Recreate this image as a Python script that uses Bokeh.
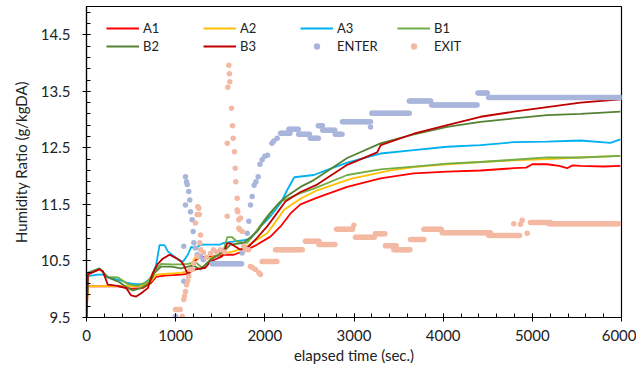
import numpy as np
from bokeh.plotting import figure
from bokeh.models import Legend, LegendItem, FixedTicker, Range1d
from bokeh.embed import file_html
from bokeh.resources import INLINE

# ---------------- data ----------------
a1_t = [0, 15, 351, 501, 632, 725, 781, 875, 1062, 1136, 1174, 1211, 1278, 1390, 1540, 1652, 1802, 1914, 2063, 2176, 2288, 2400, 2587, 2924, 3297, 3670, 4045, 4419, 4792, 4930, 5000, 5166, 5300, 5390, 5450, 5540, 5800, 5988]
a1_v = [9.5, 10.05, 10.05, 10.01, 10.02, 10.11, 10.22, 10.24, 10.26, 10.27, 10.40, 10.50, 10.57, 10.57, 10.61, 10.61, 10.70, 10.79, 10.93, 11.11, 11.34, 11.50, 11.62, 11.81, 11.96, 12.05, 12.08, 12.10, 12.14, 12.15, 12.21, 12.21, 12.18, 12.14, 12.19, 12.18, 12.17, 12.18]

a2_t = [0, 15, 351, 613, 725, 781, 875, 1062, 1136, 1174, 1211, 1278, 1390, 1540, 1652, 1764, 1877, 2026, 2138, 2213, 2400, 2587, 2961, 3409, 3670, 4045, 4419, 4792, 5166, 5540, 5988]
a2_v = [9.5, 10.05, 10.06, 10.05, 10.14, 10.26, 10.27, 10.29, 10.32, 10.43, 10.55, 10.55, 10.55, 10.64, 10.67, 10.73, 10.84, 10.99, 11.23, 11.40, 11.60, 11.75, 11.95, 12.10, 12.16, 12.21, 12.25, 12.28, 12.30, 12.33, 12.36]

a3_t = [0, 15, 127, 183, 239, 351, 464, 538, 632, 725, 781, 819, 875, 912, 1006, 1080, 1136, 1174, 1222, 1278, 1502, 1540, 1764, 1839, 1951, 2063, 2176, 2250, 2330, 2550, 2700, 2924, 3297, 3670, 4045, 4419, 4792, 5166, 5540, 5876, 5988]
a3_v = [9.5, 10.23, 10.26, 10.26, 10.21, 10.17, 10.11, 10.09, 10.09, 10.20, 10.43, 10.78, 10.78, 10.67, 10.55, 10.48, 10.61, 10.75, 10.72, 10.79, 10.79, 10.82, 10.87, 10.89, 11.11, 11.29, 11.52, 11.75, 11.98, 12.02, 12.11, 12.24, 12.40, 12.46, 12.52, 12.55, 12.60, 12.61, 12.63, 12.59, 12.65]

b1_t = [0, 15, 146, 239, 351, 464, 576, 688, 763, 837, 950, 1062, 1136, 1222, 1297, 1390, 1540, 1578, 1633, 1690, 1802, 1914, 2026, 2138, 2176, 2250, 2400, 2550, 2924, 3297, 3670, 4045, 4419, 4792, 5166, 5540, 5988]
b1_v = [9.5, 10.26, 10.36, 10.22, 10.21, 10.09, 10.06, 10.14, 10.32, 10.45, 10.44, 10.44, 10.45, 10.48, 10.38, 10.52, 10.70, 10.92, 10.92, 10.84, 10.82, 11.05, 11.29, 11.49, 11.55, 11.60, 11.70, 11.78, 12.02, 12.12, 12.17, 12.22, 12.25, 12.29, 12.33, 12.33, 12.36]

b2_t = [0, 15, 146, 239, 351, 464, 520, 613, 707, 763, 837, 950, 1062, 1136, 1200, 1278, 1390, 1540, 1614, 1764, 1914, 2063, 2157, 2250, 2400, 2550, 2924, 3297, 3670, 4045, 4419, 4792, 5166, 5540, 5988]
b2_v = [9.5, 10.29, 10.37, 10.21, 10.14, 10.02, 9.98, 10.02, 10.11, 10.29, 10.40, 10.40, 10.37, 10.40, 10.42, 10.35, 10.52, 10.67, 10.79, 10.82, 11.02, 11.35, 11.52, 11.65, 11.81, 11.93, 12.32, 12.58, 12.74, 12.87, 12.96, 13.02, 13.08, 13.10, 13.14]

b3_t = [0, 15, 146, 183, 239, 351, 445, 501, 557, 613, 688, 744, 800, 856, 931, 1006, 1062, 1099, 1136, 1174, 1222, 1334, 1390, 1521, 1578, 1614, 1727, 1821, 1914, 2026, 2138, 2231, 2400, 2587, 2924, 3260, 3300, 3670, 4045, 4419, 4792, 5166, 5540, 5988]
b3_v = [9.5, 10.26, 10.35, 10.32, 10.08, 10.06, 10.02, 9.89, 9.87, 9.93, 10.02, 10.29, 10.45, 10.54, 10.61, 10.55, 10.49, 10.40, 10.26, 10.32, 10.35, 10.38, 10.49, 10.58, 10.81, 10.81, 10.70, 10.76, 10.91, 11.11, 11.35, 11.55, 11.72, 11.85, 12.20, 12.42, 12.55, 12.75, 12.90, 13.05, 13.14, 13.22, 13.30, 13.36]

# ENTER: isolated readings + runs of constant readings (start, end, value)
enter_pt_t = [998, 1091, 1091, 1110, 1110, 1122, 1129, 1147, 1158, 1166, 1185, 1196, 1203, 1222, 1241, 1278, 1310, 1746, 1783, 1802, 1820, 1839, 1858, 1880, 1900, 1925, 1945, 1970, 2000, 2030, 2080, 2101, 2138, 3185]
enter_pt_v = [9.52, 10.14, 10.76, 11.99, 11.49, 11.90, 11.85, 11.73, 11.58, 11.37, 11.23, 11.02, 10.82, 10.73, 10.61, 10.58, 10.52, 10.64, 10.72, 10.99, 11.20, 11.49, 11.64, 11.84, 11.90, 11.99, 12.21, 12.29, 12.35, 12.37, 12.58, 12.62, 12.67, 12.87]
enter_run_start = [1409, 2176, 2270, 2380, 2510, 2600, 2650, 2790, 2870, 3200, 3620, 3870, 4390, 4510]
enter_run_end   = [1745, 2288, 2380, 2510, 2600, 2650, 2790, 2870, 3185, 3620, 3870, 4390, 4500, 6000]
enter_run_val   = [10.45, 12.76, 12.83, 12.74, 12.67, 12.89, 12.81, 12.74, 12.96, 13.11, 13.33, 13.26, 13.47, 13.39]

# EXIT
exit_pt_t = [998, 1015, 1032, 1050, 1073, 1091, 1099, 1110, 1122, 1135, 1147, 1166, 1185, 1203, 1222, 1241, 1248, 1260, 1265, 1278, 1271, 1241, 1278, 1312, 1346, 1391, 1424, 1458, 1503, 1548, 1578, 1578, 1584, 1596, 1602, 1607, 1626, 1637, 1645, 1660, 1668, 1674, 1690, 1697, 1690, 1708, 1727, 1708, 1720, 1746, 1765, 1783, 1817, 1839, 1862, 1895, 1933, 1951, 2998, 4792, 4867, 4886, 4942]
exit_pt_v = [9.64, 9.64, 9.64, 9.64, 9.52, 9.82, 9.88, 9.96, 10.08, 10.15, 10.23, 10.35, 10.35, 10.46, 11.17, 11.32, 11.46, 11.43, 11.32, 10.96, 10.82, 10.58, 10.70, 10.65, 10.56, 10.63, 10.70, 10.66, 10.70, 10.66, 11.29, 12.58, 13.57, 13.96, 13.81, 13.67, 13.20, 12.89, 12.67, 12.43, 12.14, 11.90, 11.61, 11.37, 11.40, 11.23, 11.26, 11.08, 11.05, 11.02, 10.76, 10.70, 10.70, 10.40, 10.38, 10.35, 10.29, 10.26, 11.13, 11.16, 11.15, 11.22, 10.99]
exit_run_start = [1970, 2120, 2456, 2606, 2804, 3017, 3241, 3353, 3447, 3634, 3784, 3989, 4512, 4979, 5185]
exit_run_end   = [2140, 2420, 2606, 2793, 2990, 3241, 3353, 3484, 3634, 3784, 3989, 4531, 4867, 5204, 5970]
exit_run_val   = [10.49, 10.70, 10.85, 10.79, 11.06, 10.92, 10.98, 10.77, 10.70, 10.88, 11.06, 11.00, 10.95, 11.18, 11.16]

series_names = ["A1", "A2", "A3", "B1", "B2", "B3"]
series_colors = ["#FF0000", "#FFC000", "#00B0F0", "#70AD47", "#548235", "#C00000"]
x_ticks = [0, 1000, 2000, 3000, 4000, 5000, 6000]
y_ticks = [9.5, 10.5, 11.5, 12.5, 13.5, 14.5]


def expand(pt_t, pt_v, starts, ends, vals, step=15):
    t = list(pt_t)
    v = list(pt_v)
    for s, e, val in zip(starts, ends, vals):
        ts = np.arange(s, e + 0.1, step)
        t.extend(ts.tolist())
        v.extend([val] * len(ts))
    return t, v


enter_t, enter_v = expand(enter_pt_t, enter_pt_v, enter_run_start, enter_run_end, enter_run_val)
exit_t, exit_v = expand(exit_pt_t, exit_pt_v, exit_run_start, exit_run_end, exit_run_val)

FONT = "Lato"
TXT = "#222222"

p = figure(width=636, height=366, output_backend="svg", toolbar_location=None,
           x_range=Range1d(0, 6000), y_range=Range1d(9.5, 15.0),
           min_border_left=86, min_border_right=15, min_border_top=6, min_border_bottom=48)
p.background_fill_color = "white"
p.border_fill_color = "white"
p.outline_line_color = "black"
p.outline_line_width = 1.2
p.xgrid.visible = False
p.ygrid.visible = False

series = [(a1_t, a1_v), (a2_t, a2_v), (a3_t, a3_v), (b1_t, b1_v), (b2_t, b2_v), (b3_t, b3_v)]
items = []
for (t, v), name, col in zip(series, series_names, series_colors):
    r = p.line(t, v, line_color=col, line_width=1.8)
    items.append(LegendItem(label=name, renderers=[r]))

re = p.scatter(enter_t, enter_v, size=5.5, fill_color="#A9B6DC", line_color=None)
rx = p.scatter(exit_t, exit_v, size=5.5, fill_color="#F4B9A3", line_color=None)
items.append(LegendItem(label="ENTER", renderers=[re]))
items.append(LegendItem(label="EXIT", renderers=[rx]))

legend = Legend(items=items, orientation="horizontal", ncols=4, location=(15, 258),
                border_line_alpha=0, background_fill_alpha=0,
                label_text_font=FONT, label_text_font_size="13px", label_text_color=TXT,
                glyph_width=33, glyph_height=16, label_height=16, label_width=58,
                label_standoff=4, spacing=2, padding=5, margin=0)
p.add_layout(legend, "center")

for ax in (p.xaxis[0], p.yaxis[0]):
    ax.axis_line_color = "black"
    ax.axis_line_width = 1.2
    ax.major_tick_line_color = "black"
    ax.minor_tick_line_color = "black"
    ax.major_tick_in = 4
    ax.major_tick_out = 4
    ax.minor_tick_in = 4
    ax.minor_tick_out = 0
    ax.major_label_text_font = FONT
    ax.major_label_text_font_size = "15px"
    ax.major_label_text_color = TXT
    ax.axis_label_text_font = FONT
    ax.axis_label_text_font_size = "15px"
    ax.axis_label_text_font_style = "normal"
    ax.axis_label_text_color = TXT

p.xaxis.ticker = FixedTicker(ticks=x_ticks, minor_ticks=list(range(0, 6001, 200)))
p.yaxis.ticker = FixedTicker(ticks=y_ticks, minor_ticks=[round(9.5 + 0.2 * i, 1) for i in range(28)])
p.xaxis.axis_label = "elapsed time (sec.)"
p.yaxis.axis_label = "Humidity Ratio (g/kgDA)"
p.xaxis.major_label_standoff = 8
p.yaxis.major_label_standoff = 12
p.xaxis.axis_label_standoff = 2
p.yaxis.axis_label_standoff = 8

open("out.html", "w").write(file_html(p, INLINE))
